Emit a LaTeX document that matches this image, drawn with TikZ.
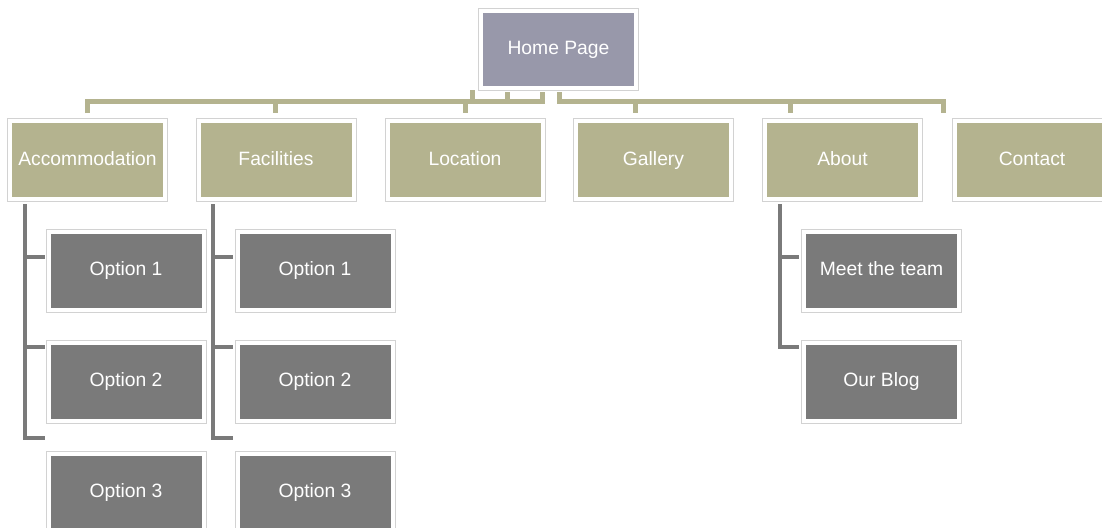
\documentclass[tikz,border=0pt]{standalone}
\usepackage{fontspec}
\setmainfont{Liberation Sans}

\definecolor{homefill}{HTML}{9898AA}
\definecolor{pagefill}{HTML}{B4B38F}
\definecolor{subfill}{HTML}{7A7A7A}
\definecolor{framegray}{HTML}{D2D2D2}

\tikzset{
	box/.style={rectangle, minimum width=155pt, minimum height=78pt, inner sep=0pt,
		text=white, font=\fontsize{19.3}{23}\selectfont, text height=14pt, text depth=4pt,
		draw=white, line width=4pt, preaction={draw=framegray, line width=6pt}},
	homebox/.style={box, fill=homefill, minimum height=77pt},
	pagebox/.style={box, fill=pagefill},
	subbox/.style={box, fill=subfill},
	topline/.style={draw=pagefill, line width=5pt},
	subline/.style={draw=subfill, line width=4.5pt},
}

\begin{document}
\begin{tikzpicture}[x=1pt, y=-1pt]
	\useasboundingbox (0,0) rectangle (1102,527);
	
	\node[homebox] (home) at (558.5,49.5) {Home Page};
	
	\node[pagebox] (acc) at (87.5,160) {Accommodation};
	\node[pagebox] (fac) at (276,160) {Facilities};
	\node[pagebox] (loc) at (465,160) {Location};
	\node[pagebox] (gal) at (653.5,160) {Gallery};
	\node[pagebox] (abo) at (842.5,160) {About};
	\node[pagebox] (con) at (1032,160) {Contact};
	
	\node[subbox] (acc1) at (126,270.5) {Option 1};
	\node[subbox] (acc2) at (126,381.5) {Option 2};
	\node[subbox] (acc3) at (126,492.5) {Option 3};
	\node[subbox] (fac1) at (315,270.5) {Option 1};
	\node[subbox] (fac2) at (315,381.5) {Option 2};
	\node[subbox] (fac3) at (315,492.5) {Option 3};
	\node[subbox] (abo1) at (881.5,270.5) {Meet the team};
	\node[subbox] (abo2) at (881.5,381.5) {Our Blog};
	
	\coordinate (b1) at (87.5,101.5);
	\coordinate (b2) at (275.5,101.5);
	\coordinate (b3) at (465,101.5);
	\coordinate (b4) at (472,101.5);
	\coordinate (b5) at (507,101.5);
	\coordinate (b6) at (542,101.5);
	\coordinate (b7) at (559,101.5);
	\coordinate (b8) at (635.5,101.5);
	\coordinate (b9) at (790,101.5);
	\coordinate (b10) at (943.5,101.5);
	
	\draw[topline, shorten <=6pt, shorten >=2pt] (b1 |- acc.north) -- (b1) -- (b6) -- (b6 |- home.south);
	\draw[topline] (b4) -- (b4 |- home.south);
	\draw[topline, shorten >=2pt] (b5) -- (b5 |- home.south);
	\draw[topline, shorten <=2pt, shorten >=6pt] (b7 |- home.south) -- (b7) -- (b10) -- (b10 |- con.north);
	\foreach \b/\n in {b2/fac,b3/loc,b8/gal,b9/abo}
		\draw[topline, shorten >=6pt] (\b) -- (\b |- \n.north);
	
	\coordinate (s1) at (25,438);
	\coordinate (s2) at (213,438);
	\coordinate (s3) at (780,347);
	
	\draw[subline, shorten <=3pt] (acc.south -| s1) -- (s1) -- ++(20,0);
	\draw[subline, shorten <=3pt] (fac.south -| s2) -- (s2) -- ++(20,0);
	\draw[subline, shorten <=3pt] (abo.south -| s3) -- (s3) -- ++(19,0);
	\foreach \x in {25,213}
		\foreach \y in {257,347}
			\draw[subline] (\x,\y) -- ++(20,0);
	\draw[subline] (780,257) -- ++(19,0);
\end{tikzpicture}
\end{document}
